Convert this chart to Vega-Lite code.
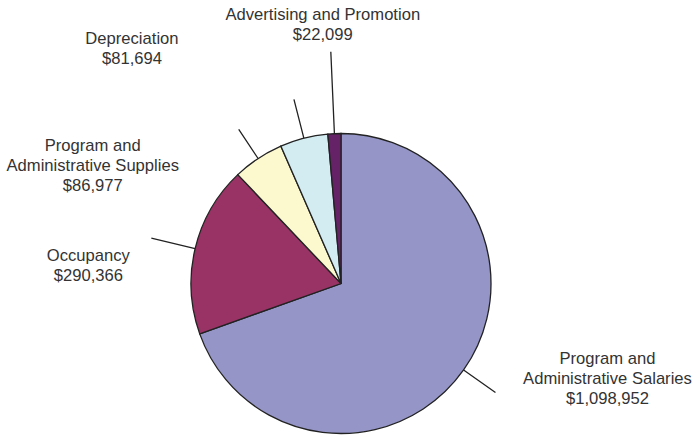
{
  "$schema": "https://vega.github.io/schema/vega-lite/v6.json",
  "width": 682,
  "height": 305,
  "padding": {"left": 0, "top": 131, "right": 12, "bottom": 0},
  "autosize": {"type": "none"},
  "background": "white",
  "config": {
    "view": {"stroke": null},
    "text": {"font": "Liberation Sans", "fontSize": 16.6, "fill": "#333333", "lineHeight": 20}
  },
  "data": {
    "values": [
      {"name": "Program and Administrative Salaries", "label": "Program and\nAdministrative Salaries\n$1,098,952", "amount": 1098952},
      {"name": "Occupancy", "label": "Occupancy\n$290,366", "amount": 290366},
      {"name": "Program and Administrative Supplies", "label": "Program and\nAdministrative Supplies\n$86,977", "amount": 86977},
      {"name": "Depreciation", "label": "Depreciation\n$81,694", "amount": 81694},
      {"name": "Advertising and Promotion", "label": "Advertising and Promotion\n$22,099", "amount": 22099}
    ]
  },
  "transform": [
    {"stack": "amount", "groupby": [], "sort": [{"field": "amount", "order": "descending"}], "as": ["a0", "a1"]},
    {"calculate": "(datum.a0 + datum.a1) / 2", "as": "amid"}
  ],
  "layer": [
    {
      "mark": {"type": "arc", "outerRadius": 150, "stroke": "#222222", "strokeWidth": 1.3},
      "encoding": {
        "theta": {"field": "a0", "type": "quantitative", "scale": {"domain": [0, 1580088]}},
        "theta2": {"field": "a1"},
        "color": {
          "field": "name",
          "type": "nominal",
          "scale": {
            "domain": ["Program and Administrative Salaries", "Occupancy", "Program and Administrative Supplies", "Depreciation", "Advertising and Promotion"],
            "range": ["#9595C8", "#993366", "#FDF9CF", "#D3ECF2", "#662266"]
          },
          "legend": null
        }
      }
    },
    {
      "transform": [{"filter": "datum.name === 'Program and Administrative Salaries'"}],
      "mark": {"type": "arc", "innerRadius": 150, "outerRadius": 189, "stroke": "#222222", "strokeWidth": 1.3, "fill": null},
      "encoding": {"theta": {"field": "amid", "type": "quantitative"}, "theta2": {"field": "amid"}}
    },
    {
      "transform": [{"filter": "datum.name === 'Occupancy'"}],
      "mark": {"type": "arc", "innerRadius": 150, "outerRadius": 195, "stroke": "#222222", "strokeWidth": 1.3, "fill": null},
      "encoding": {"theta": {"field": "amid", "type": "quantitative"}, "theta2": {"field": "amid"}}
    },
    {
      "transform": [{"filter": "datum.name === 'Program and Administrative Supplies'"}],
      "mark": {"type": "arc", "innerRadius": 150, "outerRadius": 185, "stroke": "#222222", "strokeWidth": 1.3, "fill": null},
      "encoding": {"theta": {"field": "amid", "type": "quantitative"}, "theta2": {"field": "amid"}}
    },
    {
      "transform": [{"filter": "datum.name === 'Depreciation'"}],
      "mark": {"type": "arc", "innerRadius": 150, "outerRadius": 190, "stroke": "#222222", "strokeWidth": 1.3, "fill": null},
      "encoding": {"theta": {"field": "amid", "type": "quantitative"}, "theta2": {"field": "amid"}}
    },
    {
      "transform": [{"filter": "datum.name === 'Advertising and Promotion'"}],
      "mark": {"type": "arc", "innerRadius": 150, "outerRadius": 232, "stroke": "#222222", "strokeWidth": 1.3, "fill": null},
      "encoding": {"theta": {"field": "amid", "type": "quantitative"}, "theta2": {"field": "amid"}}
    },
    {
      "transform": [{"filter": "datum.name === 'Program and Administrative Salaries'"}],
      "mark": {"type": "text", "radius": 189, "dx": 112, "dy": -33, "align": "center", "baseline": "middle", "lineBreak": "\n"},
      "encoding": {"theta": {"field": "amid", "type": "quantitative"}, "text": {"field": "label"}}
    },
    {
      "transform": [{"filter": "datum.name === 'Occupancy'"}],
      "mark": {"type": "text", "radius": 195, "dx": -63, "dy": 18, "align": "center", "baseline": "middle", "lineBreak": "\n"},
      "encoding": {"theta": {"field": "amid", "type": "quantitative"}, "text": {"field": "label"}}
    },
    {
      "transform": [{"filter": "datum.name === 'Program and Administrative Supplies'"}],
      "mark": {"type": "text", "radius": 185, "dx": -146, "dy": 17, "align": "center", "baseline": "middle", "lineBreak": "\n"},
      "encoding": {"theta": {"field": "amid", "type": "quantitative"}, "text": {"field": "label"}}
    },
    {
      "transform": [{"filter": "datum.name === 'Depreciation'"}],
      "mark": {"type": "text", "radius": 190, "dx": -162, "dy": -60, "align": "center", "baseline": "middle", "lineBreak": "\n"},
      "encoding": {"theta": {"field": "amid", "type": "quantitative"}, "text": {"field": "label"}}
    },
    {
      "transform": [{"filter": "datum.name === 'Advertising and Promotion'"}],
      "mark": {"type": "text", "radius": 232, "dx": -8, "dy": -37, "align": "center", "baseline": "middle", "lineBreak": "\n"},
      "encoding": {"theta": {"field": "amid", "type": "quantitative"}, "text": {"field": "label"}}
    }
  ]
}
